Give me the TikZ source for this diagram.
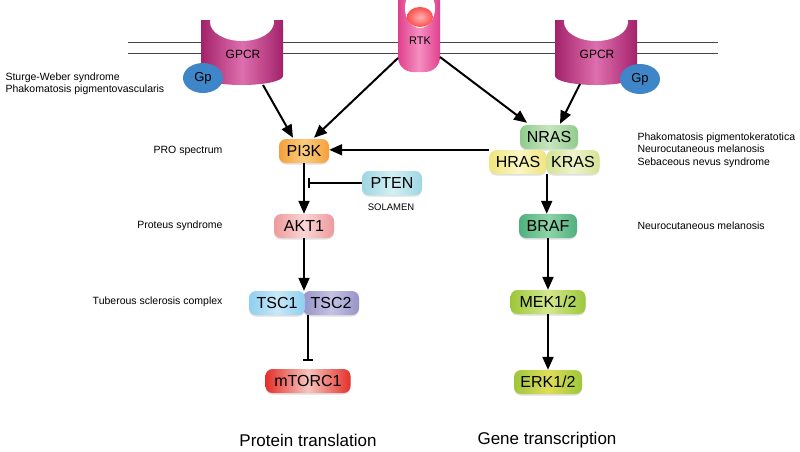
\documentclass[tikz,border=0pt]{standalone}
\usepackage{fontspec}
\setmainfont{Liberation Sans}
\usetikzlibrary{arrows.meta,calc,shapes.geometric,shadows}

\definecolor{gpcrdark}{HTML}{A3226A}
\definecolor{gpcrlight}{HTML}{DE6FAE}
\definecolor{rtkdark}{HTML}{E0408D}
\definecolor{rtklight}{HTML}{F58FC2}
\definecolor{gpblue}{HTML}{3F86C8}
\definecolor{membrane}{HTML}{444444}
\definecolor{pikA}{HTML}{F5A03A}\definecolor{pikB}{HTML}{FBCB80}
\definecolor{ptenA}{HTML}{9DD6E2}\definecolor{ptenB}{HTML}{D4F0F4}
\definecolor{aktA}{HTML}{EE9A9C}\definecolor{aktB}{HTML}{F9D6D6}
\definecolor{tscoA}{HTML}{8ECFF0}\definecolor{tscoB}{HTML}{C8E8F8}
\definecolor{tsctA}{HTML}{9794C8}\definecolor{tsctB}{HTML}{C4C2E4}
\definecolor{mtorA}{HTML}{E4302A}\definecolor{mtorB}{HTML}{F7C4BE}
\definecolor{nrasA}{HTML}{8FCB8C}\definecolor{nrasB}{HTML}{C7E6BE}
\definecolor{hrasA}{HTML}{F0E57E}\definecolor{hrasB}{HTML}{FAF6C4}
\definecolor{krasA}{HTML}{D3E394}\definecolor{krasB}{HTML}{EEF3CC}
\definecolor{brafA}{HTML}{4FB07D}\definecolor{brafB}{HTML}{8ED3A9}
\definecolor{mekA}{HTML}{9CC73A}\definecolor{mekB}{HTML}{D4E88E}
\definecolor{erkA}{HTML}{9DC73A}\definecolor{erkB}{HTML}{E0DC5A}

\tikzset{
  prot/.style={rounded corners=7pt, minimum height=24pt, inner sep=2pt,
    font=\fontsize{16}{16}\selectfont,
    drop shadow={shadow xshift=0pt, shadow yshift=-1.5pt, opacity=0.25}},
  tint/.style={left color=#1A, right color=#1A, middle color=#1B},
  act/.style={-{Triangle[length=13pt,width=11pt]}, line width=2pt},
  inh/.style={-{Bar[width=10pt]}, line width=1.5pt},
  dis/.style={font=\fontsize{10.5}{12.5}\selectfont, align=left},
  gp/.style={ellipse, fill=gpblue, minimum width=40pt, minimum height=30pt,
    inner sep=0pt, font=\fontsize{13}{13}\selectfont},
  path/.style={font=\fontsize{17}{17}\selectfont}
}

\begin{document}
\begin{tikzpicture}[x=1pt,y=-1pt]
  \useasboundingbox (0,0) rectangle (800,451);

  \draw[membrane, line width=1pt] (128,42) -- (718,42) (128,53) -- (718,53);

  \foreach \cx in {242,596} {
    \shade[left color=gpcrdark, right color=gpcrdark, middle color=gpcrlight]
      (\cx-41,20) -- (\cx-41,76) arc[start angle=180, end angle=360, x radius=41pt, y radius=9pt]
      -- (\cx+41,20) -- cycle;
    \fill[white] (\cx,22) ellipse [x radius=32pt, y radius=19pt];
  }
  \node[font=\fontsize{12}{12}\selectfont] (GPCRL) at (243,54) {GPCR};
  \node[font=\fontsize{12}{12}\selectfont] (GPCRR) at (597,54) {GPCR};
  \node[gp] (GpL) at (203,78) {Gp};
  \node[gp] (GpR) at (640,79) {Gp};
  \coordinate (GPCRLout) at (263,85);
  \coordinate (GPCRRout) at (580,84);

  \shade[left color=rtkdark, right color=rtkdark, middle color=rtklight]
    (398,-2) [rounded corners=15pt] -- (398,72) -- (440,72) [sharp corners] -- (440,-2) -- cycle;
  \fill[white] (420,8) ellipse [x radius=15pt, y radius=20pt];
  \shade[inner color=white!70!red, outer color=red!70!white] (420,17) ellipse [x radius=13pt, y radius=10pt];
  \node[font=\fontsize{11}{11}\selectfont] (RTK) at (420,41) {RTK};
  \coordinate (RTKleft) at (398,58);
  \coordinate (RTKright) at (440,57);

  \node[prot, minimum width=50pt, tint=pik] (PI3K) at (304,151) {PI3K};
  \node[prot, minimum width=60pt, tint=pten] (PTEN) at (392,183) {PTEN};
  \node[font=\fontsize{9.5}{9.5}\selectfont] (SOLAMEN) at (391,207) {SOLAMEN};
  \node[prot, minimum width=60pt, tint=akt] (AKT1) at (304,226) {AKT1};
  \node[prot, minimum width=56pt, tint=tsct] (TSC2) at (331,303) {TSC2};
  \node[prot, minimum width=56pt, tint=tsco] (TSC1) at (277,303) {TSC1};
  \node[prot, minimum width=85pt, tint=mtor] (mTORC1) at (308,381) {mTORC1};

  \node[prot, minimum width=58pt, tint=nras] (NRAS) at (549,137) {NRAS};
  \node[prot, minimum width=57pt, tint=hras] (HRAS) at (518,162) {HRAS};
  \node[prot, minimum width=53pt, tint=kras] (KRAS) at (573,162) {KRAS};
  \node[prot, minimum width=58pt, tint=braf] (BRAF) at (548,226) {BRAF};
  \node[prot, minimum width=75pt, tint=mek] (MEK) at (548,302) {MEK1/2};
  \node[prot, minimum width=68pt, tint=erk] (ERK) at (548,382) {ERK1/2};

  \draw[act] (GPCRLout) -- ($(PI3K.north)+(-11,-1)$);
  \draw[act] (RTKleft) -- ($(PI3K.north)+(10,-1)$);
  \draw[act] (RTKright) -- ($(NRAS.north)+(-22,-2)$);
  \draw[act] (GPCRRout) -- ($(NRAS.north)+(11,-1)$);
  \draw[act] (HRAS.north west) -- (HRAS.north west -| PI3K.east);
  \draw[act] (PI3K) -- (AKT1);
  \draw[inh] (PTEN.west) -- ($(PTEN.west -| PI3K.south)+(4,0)$);
  \draw[act] (AKT1) -- (AKT1 |- TSC1.north);
  \draw[inh] (mTORC1.north |- TSC1.south) -- ($(mTORC1.north)+(0,-8)$);
  \draw[act] (HRAS.south east) -- (HRAS.south east |- BRAF.north);
  \draw[act] (BRAF) -- (MEK);
  \draw[act] (MEK) -- (ERK);

  \node[dis, anchor=north west] (SWS) at (2,69) {Sturge-Weber syndrome\\Phakomatosis pigmentovascularis};
  \node[dis, anchor=east] (PROS) at (226,151) {PRO spectrum};
  \node[dis, anchor=east] (PS) at (226,226) {Proteus syndrome};
  \node[dis, anchor=east] (TSCX) at (226,302) {Tuberous sclerosis complex};
  \node[dis, anchor=west] (PPK) at (634,150) {Phakomatosis pigmentokeratotica\\Neurocutaneous melanosis\\Sebaceous nevus syndrome};
  \node[dis, anchor=west] (NCM) at (634,226) {Neurocutaneous melanosis};

  \node[path] (PT) at (308,440) {Protein translation};
  \node[path] (GT) at (547,440) {Gene transcription};
\end{tikzpicture}
\end{document}
